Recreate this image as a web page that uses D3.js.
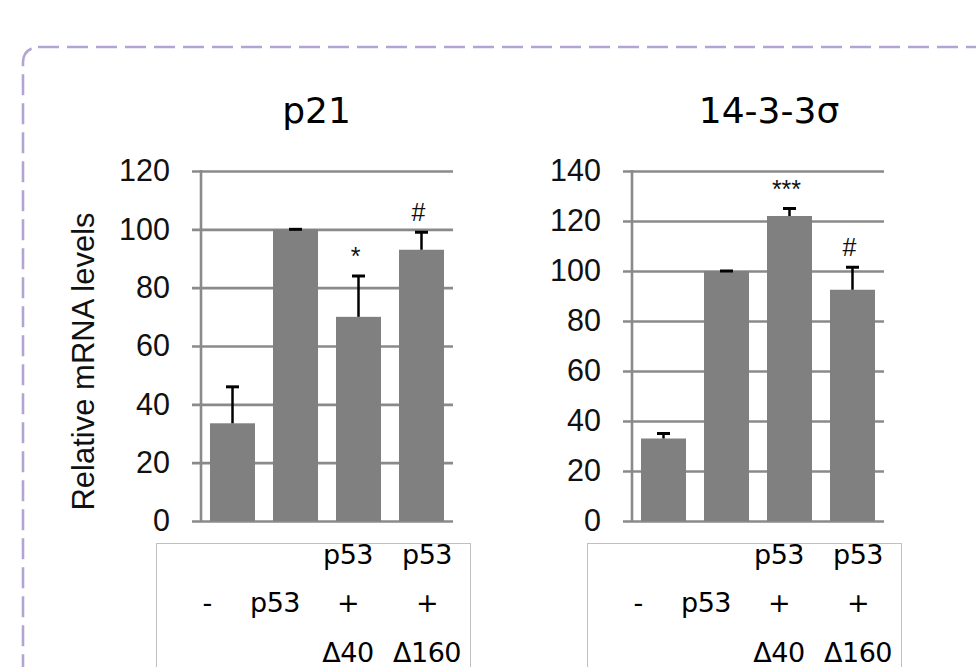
<!DOCTYPE html>
<html>
<head>
<meta charset="utf-8">
<script src="https://cdn.jsdelivr.net/npm/d3@7"></script>
<style>
  html, body { margin: 0; padding: 0; background: #fff; }
  svg { display: block; }
</style>
</head>
<body>
<svg id="chart" width="976" height="667"></svg>
<script>
// Treatment groups (one bar each)
const groups = ["ctrl", "p53", "p53+d40", "p53+d160"];

// Table under each chart: three text rows per group
const tableRow1 = ["", "", "p53", "p53"];
const tableRow2 = ["-", "p53", "+", "+"];
const tableRow3 = ["", "", "Δ40", "Δ160"];

// p21 relative mRNA levels
const p21Means = [33.5, 100, 70, 93];
const p21Errors = [12.5, 0, 14, 6];
const p21Marks = ["", "", "*", "#"];
const p21Ticks = [0, 20, 40, 60, 80, 100, 120];

// 14-3-3σ relative mRNA levels
const sigmaMeans = [33, 100, 122, 92.5];
const sigmaErrors = [2, 0, 3, 9];
const sigmaMarks = ["", "", "***", "#"];
const sigmaTicks = [0, 20, 40, 60, 80, 100, 120, 140];

const titles = ["p21", "14-3-3σ"];
const yLabel = "Relative mRNA levels";

const svg = d3.select("#chart");

// Dashed rounded frame around the figure
svg.append("rect")
  .attr("x", 23).attr("y", 47)
  .attr("width", 980).attr("height", 700)
  .attr("rx", 15).attr("ry", 15)
  .attr("fill", "none")
  .attr("stroke", "#b3a5d3")
  .attr("stroke-width", 2.6)
  .attr("stroke-dasharray", "21 8");

const plotW = 252, plotTop = 171, plotBottom = 521;
const gridColor = "#8a8a8a";
const tableCols = [51, 119, 192, 271];

function drawPanel(cfg) {
  const g = svg.append("g").attr("transform", `translate(${cfg.left},0)`);

  const x = d3.scaleBand().domain(groups).range([0, plotW])
    .paddingInner(0.2857).paddingOuter(0.143);
  const y = d3.scaleLinear().domain([0, d3.max(cfg.ticks)]).range([plotBottom, plotTop]);

  // Gridlines + tick labels
  const axis = d3.axisLeft(y)
    .tickValues(cfg.ticks)
    .tickSizeInner(-(plotW + 9))
    .tickSizeOuter(0)
    .tickPadding(22)
    .tickFormat(d3.format("d"));
  const ag = g.append("g").attr("transform", "translate(-9,0)").call(axis);
  ag.select(".domain").remove();
  ag.selectAll(".tick line").attr("stroke", gridColor).attr("stroke-width", 2.6);
  ag.selectAll(".tick text")
    .attr("font-family", "'Liberation Sans', Arial, sans-serif")
    .attr("font-size", 30.5)
    .attr("fill", "#111");

  // Vertical axis line
  g.append("line")
    .attr("x1", 0).attr("x2", 0)
    .attr("y1", plotTop - 1).attr("y2", plotBottom + 1)
    .attr("stroke", gridColor).attr("stroke-width", 2.6);

  const rows = groups.map((k, i) => ({
    k, mean: cfg.means[i], err: cfg.errors[i], mark: cfg.marks[i]
  }));

  // Bars
  g.selectAll("rect.bar").data(rows).join("rect")
    .attr("class", "bar")
    .attr("x", d => x(d.k))
    .attr("width", x.bandwidth())
    .attr("y", d => y(d.mean))
    .attr("height", d => y(0) - y(d.mean))
    .attr("fill", "#808080");

  // Error bars (upper half)
  const cap = 13;
  g.selectAll("line.err").data(rows).join("line")
    .attr("class", "err")
    .attr("x1", d => x(d.k) + x.bandwidth() / 2)
    .attr("x2", d => x(d.k) + x.bandwidth() / 2)
    .attr("y1", d => y(d.mean))
    .attr("y2", d => y(d.mean + d.err))
    .attr("stroke", "#000").attr("stroke-width", 2.5);
  g.selectAll("line.cap").data(rows).join("line")
    .attr("class", "cap")
    .attr("x1", d => x(d.k) + x.bandwidth() / 2 - cap / 2)
    .attr("x2", d => x(d.k) + x.bandwidth() / 2 + cap / 2)
    .attr("y1", d => y(d.mean + d.err))
    .attr("y2", d => y(d.mean + d.err))
    .attr("stroke", "#000").attr("stroke-width", 3);

  // Significance marks
  g.selectAll("text.mark").data(rows.filter(d => d.mark)).join("text")
    .attr("class", "mark")
    .attr("x", d => x(d.k) + x.bandwidth() / 2 - 3)
    .attr("y", d => y(d.mean + d.err) - 11)
    .attr("text-anchor", "middle")
    .attr("font-family", "'Liberation Sans', Arial, sans-serif")
    .attr("font-size", 25)
    .attr("fill", "#111")
    .text(d => d.mark);

  // Title
  svg.append("text")
    .attr("x", cfg.titleX).attr("y", 122.5)
    .attr("text-anchor", "middle")
    .attr("font-family", "'DejaVu Sans', sans-serif")
    .attr("font-size", 36)
    .attr("fill", "#000")
    .text(cfg.title);

  // Group table
  const tg = svg.append("g").attr("transform", `translate(${cfg.left - 45},543)`);
  tg.append("rect")
    .attr("x", 0.5).attr("y", 0.5)
    .attr("width", 314).attr("height", 200)
    .attr("fill", "none").attr("stroke", "#c0c0c0").attr("stroke-width", 1);
  [[tableRow1, 20.5], [tableRow2, 68.5], [tableRow3, 118.5]].forEach(([row, by]) => {
    tg.selectAll(null).data(row).join("text")
      .attr("x", (d, i) => tableCols[i])
      .attr("y", by)
      .attr("text-anchor", "middle")
      .attr("font-family", "'DejaVu Sans', sans-serif")
      .attr("font-size", 27)
      .attr("letter-spacing", -0.5)
      .attr("fill", "#000")
      .text(d => d);
  });
}

drawPanel({ left: 201, means: p21Means, errors: p21Errors, marks: p21Marks,
  ticks: p21Ticks, title: titles[0], titleX: 316.5 });
drawPanel({ left: 632, means: sigmaMeans, errors: sigmaErrors, marks: sigmaMarks,
  ticks: sigmaTicks, title: titles[1], titleX: 769 });

// Y axis title
svg.append("text")
  .attr("transform", "translate(94,361.5) rotate(-90)")
  .attr("text-anchor", "middle")
  .attr("font-family", "'Liberation Sans', Arial, sans-serif")
  .attr("font-size", 31)
  .attr("fill", "#111")
  .text(yLabel);
</script>
</body>
</html>
